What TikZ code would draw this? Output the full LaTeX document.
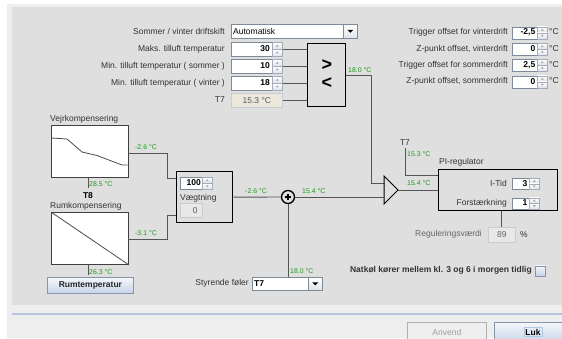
\documentclass[tikz,border=0pt]{standalone}
\usepackage{fontspec}
\setmainfont{Liberation Sans}
\usetikzlibrary{calc}
\definecolor{outerc}{HTML}{EEEEEE}
\definecolor{panelc}{HTML}{DFDFDF}
\definecolor{txtc}{HTML}{333333}
\definecolor{grc}{HTML}{1F9A1F}
\definecolor{wirec}{HTML}{555555}
\definecolor{fieldb}{HTML}{7F8A99}
\definecolor{spb}{HTML}{A3ACB8}
\definecolor{spbot}{HTML}{DDE3EA}
\definecolor{arrc}{HTML}{A0A0A0}
\definecolor{rofill}{HTML}{E8E8E8}
\definecolor{rob}{HTML}{C6CCD3}
\definecolor{beige}{HTML}{ECE9DC}
\definecolor{btnb}{HTML}{8595AA}
\definecolor{btntop}{HTML}{F4F7FB}
\definecolor{btnbot}{HTML}{C6D5E9}
\definecolor{bluel}{HTML}{B5C7E0}
\definecolor{disb}{HTML}{B0B0B0}
\definecolor{distx}{HTML}{A0A0A0}
\newcommand\labfont{\fontsize{8.5}{10}\selectfont}
\newcommand\grfont{\fontsize{6.9}{8}\selectfont}
\newcommand\myspin[4]{%
  \node[spinbtn, minimum height=#4/2] (#1u) at (#2,#3) {};
  \node[spinbtn, minimum height=#4/2] (#1d) at (#2,#3+#4/2) {};
  \fill[arrc] ($(#1u.center)+(-1.5,0.8)$) -- ++(3,0) -- ++(-1.5,-1.6) -- cycle;
  \fill[arrc] ($(#1d.center)+(-1.5,-0.8)$) -- ++(3,0) -- ++(-1.5,1.6) -- cycle;
}
\tikzset{
  lbl/.style={font=\labfont, text=txtc, inner sep=0pt},
  grn/.style={font=\grfont, text=grc, inner sep=0pt, anchor=west},
  val/.style={font=\labfont\bfseries, text=black, inner sep=0pt, anchor=east},
  wire/.style={draw=wirec, line width=0.9pt},
  blk/.style={draw=black, line width=1.3pt, inner sep=0pt, anchor=north west},
  box/.style={draw=fieldb, fill=white, line width=0.7pt, inner sep=0pt, anchor=north west},
  robox/.style={draw=rob, fill=rofill, line width=0.7pt, inner sep=0pt, anchor=north west},
  spinbtn/.style={draw=spb, top color=white, bottom color=spbot, line width=0.5pt, inner sep=0pt, anchor=north west, minimum width=10pt},
  cbtn/.style={draw=fieldb, top color=white, bottom color=spbot, line width=0.7pt, inner sep=0pt, anchor=north west},
  gbox/.style={draw=black!75, fill=white, line width=1pt, inner sep=0pt, anchor=north west},
  curve/.style={draw=black!70, line width=0.8pt},
  pbtn/.style={draw=btnb, top color=btntop, bottom color=btnbot, line width=0.8pt, inner sep=0pt, anchor=north west, font=\labfont\bfseries, text=black!85},
  cmpsym/.style={font=\fontsize{18}{18}\selectfont\bfseries, inner sep=0pt, text height=10pt, text depth=0pt},
}
\begin{document}
\begin{tikzpicture}[x=1pt,y=-1pt]
\useasboundingbox (0,0) rectangle (562,338);
\fill[white] (0,0) rectangle (562,338);
\fill[outerc] (7,4) rectangle (562,338);
\fill[panelc] (12,7) rectangle (562,305);
\draw[bluel, line width=1.5pt] (12,314) -- (562,314);

% ---- top combo
\node[lbl, anchor=east] (lsw) at (225,31) {Sommer / vinter driftskift};
\node[box, minimum width=126, minimum height=14] (csw) at (231,24) {};
\node[lbl, anchor=west, text=black] (cswt) at (233,31) {Automatisk};
\node[cbtn, minimum width=14, minimum height=14] (cswb) at (343,24) {};
\fill[black] ($(cswb.center)+(-3,-1.5)$) -- ++(6,0) -- ++(-3,3) -- cycle;

% ---- temperature spinners
\node[lbl, anchor=east] (l1) at (225,49) {Maks. tilluft temperatur};
\node[lbl, anchor=east] (l2) at (225,66) {Min. tilluft temperatur ( sommer )};
\node[lbl, anchor=east] (l3) at (225,83) {Min. tilluft temperatur ( vinter )};
\node[lbl, anchor=east] (l4) at (225,100) {T7};
\node[box, minimum width=41, minimum height=14] (f1) at (231,42) {};
\node[val] (v1) at (270,49) {30};
\myspin{s1}{272}{42}{14}
\node[box, minimum width=41, minimum height=14] (f2) at (231,59) {};
\node[val] (v2) at (270,66) {10};
\myspin{s2}{272}{59}{14}
\node[box, minimum width=41, minimum height=14] (f3) at (231,76) {};
\node[val] (v3) at (270,83) {18};
\myspin{s3}{272}{76}{14}
\node[draw=rob, fill=beige, line width=0.7pt, inner sep=0pt, anchor=north west, minimum width=51, minimum height=14, font=\labfont, text=black!65] (t7f) at (231,93) {15.3 °C};

% ---- comparator
\node[blk, minimum width=38, minimum height=63] (cmp) at (307,43) {};
\node[cmpsym] (gt) at (327,65) {>};
\node[cmpsym] (lt) at (327,83) {<};
\draw[wire] (s1u.south east) -- (s1u.south east -| cmp.west);
\draw[wire] (s2u.south east) -- (s2u.south east -| cmp.west);
\draw[wire] (s3u.south east) -- (s3u.south east -| cmp.west);
\draw[wire] (t7f.east) -- (t7f.east -| cmp.west);
\node[grn] (g180a) at (348,70) {18.0 °C};

% ---- amplifier triangle
\coordinate (ampA) at (384,176);
\coordinate (ampB) at (384,204);
\coordinate (ampT) at (398,190);
\coordinate (ampin1) at (384,183);
\coordinate (ampin2) at (384,197);
\draw[wire] (cmp.east) -| ($(ampin1)+(-13,0)$) -- (ampin1);
\draw[black, line width=1pt, line join=miter] (ampA) -- (ampT) -- (ampB) -- cycle;

% ---- right top offsets
\foreach \i/\yy/\tx/\vv in {1/32.5/Trigger offset for vinterdrift/{-2,5},2/49/{Z-punkt offset, vinterdrift}/0,3/65/Trigger offset for sommerdrift/{2,5},4/81.5/{Z-punkt offset, sommerdrift}/0}{
  \node[lbl, anchor=east] (ro\i) at (508,\yy) {\tx};
  \node[box, minimum width=25, minimum height=12] (rf\i) at (512,\yy-6) {};
  \node[val] (rv\i) at (535.5,\yy) {\vv};
  \myspin{rs\i}{537}{\yy-6}{12}
  \node[lbl, anchor=west] (rc\i) at (549,\yy-0.5) {°C};
}

% ---- left graphs
\node[lbl, anchor=west] (lvejr) at (50,119) {Vejrkompensering};
\node[gbox, minimum width=77, minimum height=52] (vg) at (51,125) {};
\draw[curve] (51.5,138) -- (67,139) -- (82,152) -- (97,155.5) -- (122,165) -- (127.5,165);
\draw[wire] ($(vg.south)+(-1.5,0)$) -- ++(0,10);
\node[grn] (g285) at (89,184.5) {28.5 °C};
\node[font=\labfont\bfseries, inner sep=0pt] (t8) at (88,196) {T8};
\node[lbl, anchor=west] (lrum) at (50,206) {Rumkompensering};
\node[gbox, minimum width=77, minimum height=52] (rg) at (51,212) {};
\draw[curve] (rg.north west) -- (rg.south east);
\draw[wire] ($(rg.south)+(-1.5,0)$) -- ++(0,10);
\node[grn] (g263) at (89,272.5) {26.3 °C};
\node[pbtn, minimum width=86, minimum height=16] (rbtn) at (47,277) {Rumtemperatur};

% ---- weighting box
\node[blk, minimum width=56, minimum height=51] (wb) at (176,171) {};
\node[box, minimum width=22, minimum height=12] (wf) at (180,177) {};
\node[val] (wv) at (201,183) {100};
\myspin{ws}{202}{177}{12}
\node[lbl, anchor=west] (wl) at (180,198) {Vægtning};
\node[robox, minimum width=22, minimum height=14, font=\labfont, text=black!65] (wro) at (180,203) {\hspace*{8pt}0};
\coordinate (vgo) at (128,153);
\coordinate (rgo) at (128,239);
\coordinate (wbi1) at (176,178);
\coordinate (wbi2) at (176,215);
\draw[wire] (vgo) -- ++(39,0) |- (wbi1);
\draw[wire] (rgo) -- ++(39,0) |- (wbi2);
\node[grn] (g26a) at (135,147) {-2.6 °C};
\node[grn] (g31) at (135,233) {-3.1 °C};

% ---- sum
\node[circle, draw=black, line width=1.3pt, minimum size=13pt, inner sep=0pt] (sum) at (288,197) {};
\draw[black, line width=1.1pt] (284.6,197) -- (291.4,197) (288,193.6) -- (288,200.4);
\draw[wire] (wb.east) -- (sum.west);
\draw[wire] (sum.east) -- (ampin2);
\node[grn] (g26b) at (245,191) {-2.6 °C};
\node[grn] (g154a) at (302,191) {15.4 °C};

% ---- styrende foeler
\node[lbl, anchor=east] (lsf) at (249,283.5) {Styrende føler};
\node[box, minimum width=70, minimum height=13] (csf) at (252,277) {};
\node[val, anchor=west] (csft) at (254,283.5) {T7};
\node[cbtn, minimum width=14, minimum height=13] (csfb) at (308,277) {};
\fill[black] ($(csfb.center)+(-3,-1.5)$) -- ++(6,0) -- ++(-3,3) -- cycle;
\draw[wire] (sum.south) -- (sum.south |- csf.north);
\node[grn] (g180b) at (290,271.5) {18.0 °C};

% ---- PI regulator
\node[blk, minimum width=119, minimum height=41] (pi) at (438,169) {};
\node[lbl, anchor=west] (pil) at (439,162) {PI-regulator};
\node[lbl, anchor=center] (t7l) at (405,143) {T7};
\coordinate (pit7) at (438,175);
\draw[wire] ($(t7l.south)+(0,1.5)$) |- (pit7);
\draw[wire] (ampT) -- (ampT -| pi.west);
\node[grn] (g153) at (407,154) {15.3 °C};
\node[grn] (g154b) at (407,183) {15.4 °C};
\node[lbl, anchor=east] (lit) at (507,183.5) {I-Tid};
\node[box, minimum width=17, minimum height=11] (itf) at (512,178) {};
\node[val] (itv) at (527.5,183.5) {3};
\myspin{its}{529}{178}{11}
\node[lbl, anchor=east] (lfo) at (507,203) {Forstærkning};
\node[box, minimum width=17, minimum height=11] (fof) at (512,197.5) {};
\node[val] (fov) at (527.5,203) {1};
\myspin{fos}{529}{197.5}{11}
\node[robox, minimum width=27, minimum height=15, font=\labfont, text=black!60] (rv) at (488,227) {89};
\draw[wire] (rv.north |- pi.south) -- (rv.north);
\node[lbl, anchor=east, text=black!60] (lrv) at (482,234.5) {Reguleringsværdi};
\node[lbl, anchor=west] (lpct) at (520,234.5) {\%};

% ---- natkoel
\node[lbl, anchor=east, font=\labfont\bfseries] (lnat) at (532,270.5) {Natkøl kører mellem kl. 3 og 6 i morgen tidlig};
\node[draw=btnb, top color=btntop, bottom color=btnbot, line width=0.7pt, inner sep=0pt, anchor=north west, minimum width=10, minimum height=10] (chk) at (535,265.5) {};

% ---- bottom buttons
\node[draw=disb, fill=outerc, line width=0.8pt, inner sep=0pt, anchor=north west, minimum width=79, minimum height=20, font=\labfont, text=distx] (banv) at (407,322) {Anvend};
\node[pbtn, minimum width=75, minimum height=20] (bluk) at (494,322) {};
\node[font=\labfont\bfseries, draw=bluel, line width=0.5pt, inner sep=1.2pt] (lluk) at (533,332) {Luk};
\end{tikzpicture}
\end{document}
